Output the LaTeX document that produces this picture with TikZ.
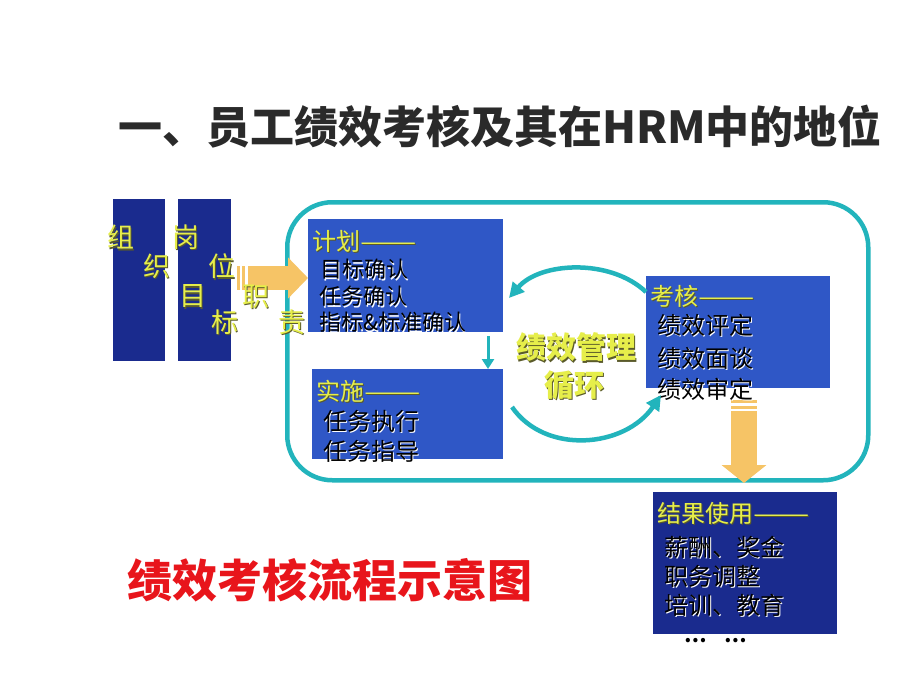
\documentclass[tikz,border=0pt]{standalone}
\usepackage{fontspec}
\usepackage{graphicx}
\setmainfont{Noto Sans CJK SC}
\usetikzlibrary{arrows.meta}
\definecolor{navy}{HTML}{1A2B8E}
\definecolor{midblue}{HTML}{2F57C6}
\definecolor{tealc}{HTML}{22B4BC}
\definecolor{ylw}{HTML}{E6EE4A}
\definecolor{orng}{HTML}{F6C466}
\definecolor{redt}{HTML}{E8151B}
\definecolor{ttl}{HTML}{2A2A2A}
\definecolor{shdy}{HTML}{5A5A2A}
\newcommand\shd[2]{\makebox[0pt][l]{\hspace{1.3pt}\raisebox{-1.3pt}{\color{#1}#2}}#2}
\newcommand\ldash{\scalebox{1.4}[1]{——}}
\tikzset{
  blk/.style={anchor=north west, inner sep=0pt, draw=none},
  hdr/.style={anchor=west, inner sep=0pt, text=ylw, font=\fontsize{24}{24}\selectfont},
  itm/.style={anchor=west, inner sep=0pt, text=black, font=\fontsize{24}{24}\selectfont},
  vch/.style={inner sep=0pt, text=ylw, font=\fontsize{27}{27}\selectfont},
  cyc/.style={draw=tealc, line width=4.5pt, -{Triangle[length=15pt,width=15pt]}},
  fat/.style={draw=orng},
}
\begin{document}
\begin{tikzpicture}[x=1pt,y=-1pt]
\useasboundingbox (0,0) rectangle (920,690);
\fill[white] (0,0) rectangle (920,690);

% title
\node[text=ttl, font=\bfseries\fontsize{44}{44}\selectfont] (title) at (500,127) {一、员工绩效考核及其在HRM中的地位};

% loop frame
\node[blk, draw=tealc, line width=4.5pt, rounded corners=45pt, minimum width=581pt, minimum height=278pt] (loop) at (285,200) {};

% left bars
\node[blk, fill=navy, minimum width=52pt, minimum height=162pt] (bar1) at (113,199) {};
\node[blk, fill=navy, minimum width=53pt, minimum height=162pt] (bar2) at (178,199) {};

% boxes
\node[blk, fill=midblue, minimum width=195pt, minimum height=113pt] (plan) at (308,219) {};
\node[blk, fill=midblue, minimum width=191pt, minimum height=90pt] (impl) at (312,369) {};
\node[blk, fill=midblue, minimum width=184pt, minimum height=112pt] (assess) at (646,276) {};
\node[blk, fill=navy, minimum width=184pt, minimum height=142pt] (res) at (653,492) {};

% orange arrow left
\fill[orng] (237,266) rectangle (239.5,290);
\fill[orng] (242,266) rectangle (245,290);
\fill[orng] (247.5,266) rectangle (250.5,290);
\coordinate (la) at (251,278);
\draw[fat, line width=24pt, -{Triangle[length=20pt,width=40pt]}] (la) -- (la -| plan.west);

% orange arrow down
\fill[orng] (731,400) rectangle (757,403);
\fill[orng] (731,405.5) rectangle (757,408.5);
\coordinate (da) at (744,411);
\draw[fat, line width=26pt, -{Triangle[length=18pt,width=44pt]}] (da) -- ([yshift=9pt]res.north -| da);

% vertical yellow characters
\node[vch] (z1) at (121,238) {\shd{shdy}{组}};
\node[vch] (z2) at (157,267) {\shd{shdy}{织}};
\node[vch] (g1) at (186,238) {\shd{shdy}{岗}};
\node[vch] (g2) at (222,267) {\shd{shdy}{位}};
\node[vch] (m1) at (193,297) {\shd{shdy}{目}};
\node[vch] (m2) at (225,323) {\shd{shdy}{标}};
\node[vch] (j1) at (256,297) {\shd{shdy}{职}};
\node[vch] (j2) at (292,323) {\shd{shdy}{责}};

% plan text
\node[hdr] (p0) at (312,242) {\shd{shdy}{计划\ldash}};
\node[itm, font=\fontsize{22}{22}\selectfont] (p1) at (320,270) {\shd{white}{目标确认}};
\node[itm, font=\fontsize{22}{22}\selectfont] (p2) at (319,297) {\shd{white}{任务确认}};
\node[itm, font=\fontsize{22}{22}\selectfont] (p3) at (319,323) {\shd{white}{指标\&标准确认}};

% implementation text
\node[hdr] (i0) at (316,392) {\shd{shdy}{实施\ldash}};
\node[itm] (i1) at (323,422) {\shd{white}{任务执行}};
\node[itm] (i2) at (323,452) {\shd{white}{任务指导}};

% assessment text
\node[hdr] (a0) at (650,297) {\shd{shdy}{考核\ldash}};
\node[itm] (a1) at (657,326) {\shd{white}{绩效评定}};
\node[itm] (a2) at (657,359) {\shd{white}{绩效面谈}};
\node[itm] (a3) at (657,390) {\shd{white}{绩效审定}};

% results text
\node[hdr] (r0) at (657,514) {\shd{shdy}{结果使用\ldash}};
\node[itm] (r1) at (664,548) {\shd{white}{薪酬、奖金}};
\node[itm] (r2) at (664,577) {\shd{white}{职务调整}};
\node[itm] (r3) at (664,606) {\shd{white}{培训、教育}};
\node[itm, font=\bfseries\fontsize{20}{20}\selectfont] (r4) at (684,641) {…\hspace{18pt}…};

% cycle center text
\node[text=ylw, inner sep=0pt, font=\bfseries\fontsize{30}{30}\selectfont] (c1) at (576,348) {\shd{shdy}{绩效管理}};
\node[text=ylw, inner sep=0pt, font=\bfseries\fontsize{30}{30}\selectfont] (c2) at (574,386) {\shd{shdy}{循环}};

% cycle arrows
\coordinate (u1) at (646,292);
\coordinate (u2) at (509,298);
\coordinate (l1) at (512,407);
\coordinate (l2) at (661,395);
\draw[cyc] (u1) .. controls (610,258) and (540,262) .. (u2);
\draw[cyc] (l1) .. controls (545,455) and (625,448) .. (l2);

% small teal arrow
\coordinate (sa) at (488,336);
\draw[draw=tealc, line width=3pt, -{Triangle[length=10pt,width=12pt]}] (sa) -- (sa |- impl.north);

% caption
\node[text=redt, font=\bfseries\fontsize{45}{45}\selectfont] (cap) at (330,580) {绩效考核流程示意图};
\end{tikzpicture}
\end{document}
